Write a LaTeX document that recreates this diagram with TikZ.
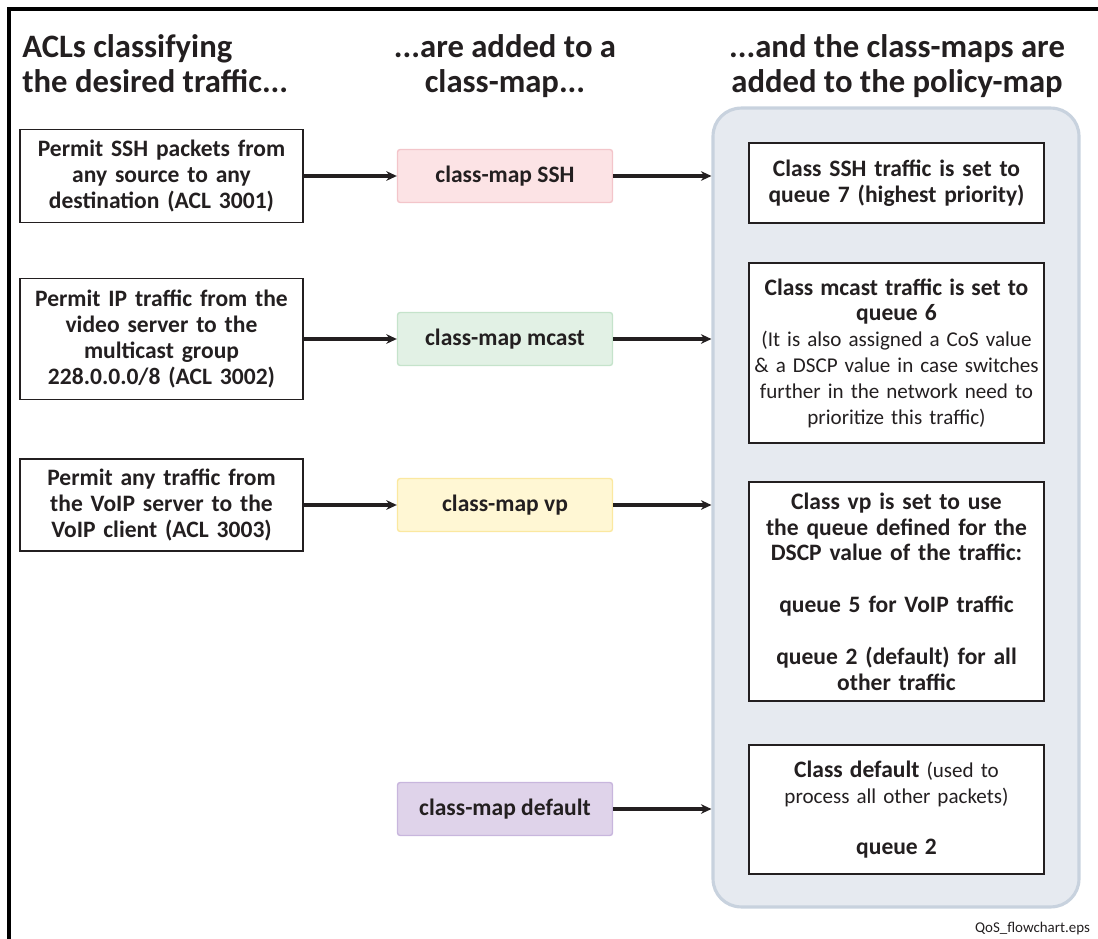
\documentclass[tikz,border=0pt]{standalone}
\usepackage{fontspec}
\setmainfont{Carlito}
\usepackage{tikz}
\usetikzlibrary{arrows.meta}
\definecolor{ink}{HTML}{231F20}
\definecolor{sshfill}{HTML}{FCE3E5}
\definecolor{sshline}{HTML}{F3C5CA}
\definecolor{mcastfill}{HTML}{E2F1E5}
\definecolor{mcastline}{HTML}{C5E3CB}
\definecolor{vpfill}{HTML}{FFF7D4}
\definecolor{vpline}{HTML}{FBE8A0}
\definecolor{deffill}{HTML}{DFD3EA}
\definecolor{defline}{HTML}{C8B6DD}
\definecolor{panelfill}{HTML}{E6EAF0}
\definecolor{panelline}{HTML}{C8D2DE}
\newcommand\bsz{\bfseries\fontsize{13.4}{14.7}\selectfont}

\begin{document}
\begin{tikzpicture}[x=0.02cm,y=-0.02cm,>={Stealth[length=6pt,width=5.5pt]},
  heading/.style={font=\bfseries\fontsize{18.6}{20}\selectfont,text=ink,inner sep=0pt},
  acl/.style={draw=ink,line width=1.1pt,align=center,text=ink,inner sep=0pt,
    text width=5.66cm,minimum width=5.66cm,minimum height=#1,font=\bsz},
  cmap/.style={draw=#1line,fill=#1fill,line width=0.8pt,rounded corners=1.5pt,text=ink,
    minimum width=4.3cm,minimum height=1.06cm,font=\bsz},
  rbox/.style={draw=ink,line width=1.1pt,fill=white,align=center,text=ink,inner sep=0pt,
    text width=5.9cm,minimum width=5.9cm,minimum height=#1,
    font=\fontsize{12}{14.7}\selectfont},
  arrow/.style={->,draw=ink,line width=2pt}]
  \clip (0,0) rectangle (1098,939);
  \draw[line width=1.8pt] (9,939) -- (9,9) -- (1098,9);
  \node[heading,anchor=north west,align=left] (h1) at (22,34) {ACLs classifying\\the desired traffic...};
  \node[heading,anchor=north,align=center] (h2) at (505,34) {...are added to a\\class-map...};
  \node[heading,anchor=north,align=center] (h3) at (897,34) {...and the class-maps are\\added to the policy-map};

  \node[draw=panelline,fill=panelfill,line width=1.8pt,rounded corners=0.56cm,
    minimum width=7.32cm,minimum height=15.98cm] (policy) at (896,507.5) {};

  \node[acl=1.86cm] (aclssh) at (161.5,176) {Permit SSH packets from\\any source to any\\destination (ACL 3001)};
  \node[acl=2.42cm] (aclmcast) at (161.5,339) {Permit IP traffic from the\\video server to the\\multicast group\\228.0.0.0/8 (ACL 3002)};
  \node[acl=1.84cm] (aclvp) at (161.5,505) {Permit any traffic from\\the VoIP server to the\\VoIP client (ACL 3003)};

  \node[cmap=ssh] (cmssh) at (505,176) {class-map SSH};
  \node[cmap=mcast] (cmmcast) at (505,339) {class-map mcast};
  \node[cmap=vp] (cmvp) at (505,505) {class-map vp};
  \node[cmap=def] (cmdef) at (505,809) {class-map default};

  \node[rbox=1.6cm,font=\bsz] (rssh) at (896.5,183) {Class SSH traffic is set to\\queue 7 (highest priority)};
  \node[rbox=3.6cm] (rmcast) at (896.5,353) {{\bsz Class mcast traffic is set to}\\{\bsz queue 6}\\(It is also assigned a CoS value\\\& a DSCP value in case switches\\further in the network need to\\prioritize this traffic)};
  \node[rbox=4.38cm,font=\bsz] (rvp) at (896.5,591.5) {Class vp is set to use\\the queue defined for the\\DSCP value of the traffic:\\[14.7pt]queue 5 for VoIP traffic\\[14.7pt]queue 2 (default) for all\\other traffic};
  \node[rbox=2.58cm] (rdef) at (896.5,809.5) {{\bsz Class default} (used to\\process all other packets)\\[14.7pt]{\bsz queue 2}};

  \draw[arrow] (aclssh.east) -- (cmssh.west);
  \draw[arrow] (aclmcast.east) -- (cmmcast.west);
  \draw[arrow] (aclvp.east) -- (cmvp.west);
  \draw[arrow] (cmssh.east) -- (cmssh.east -| policy.west);
  \draw[arrow] (cmmcast.east) -- (cmmcast.east -| policy.west);
  \draw[arrow] (cmvp.east) -- (cmvp.east -| policy.west);
  \draw[arrow] (cmdef.east) -- (cmdef.east -| policy.west);

  \node[anchor=south east,font=\fontsize{8.5}{9}\selectfont,text=ink,inner sep=1pt] (footer) at (1092,937) {QoS\_flowchart.eps};
\end{tikzpicture}
\end{document}
